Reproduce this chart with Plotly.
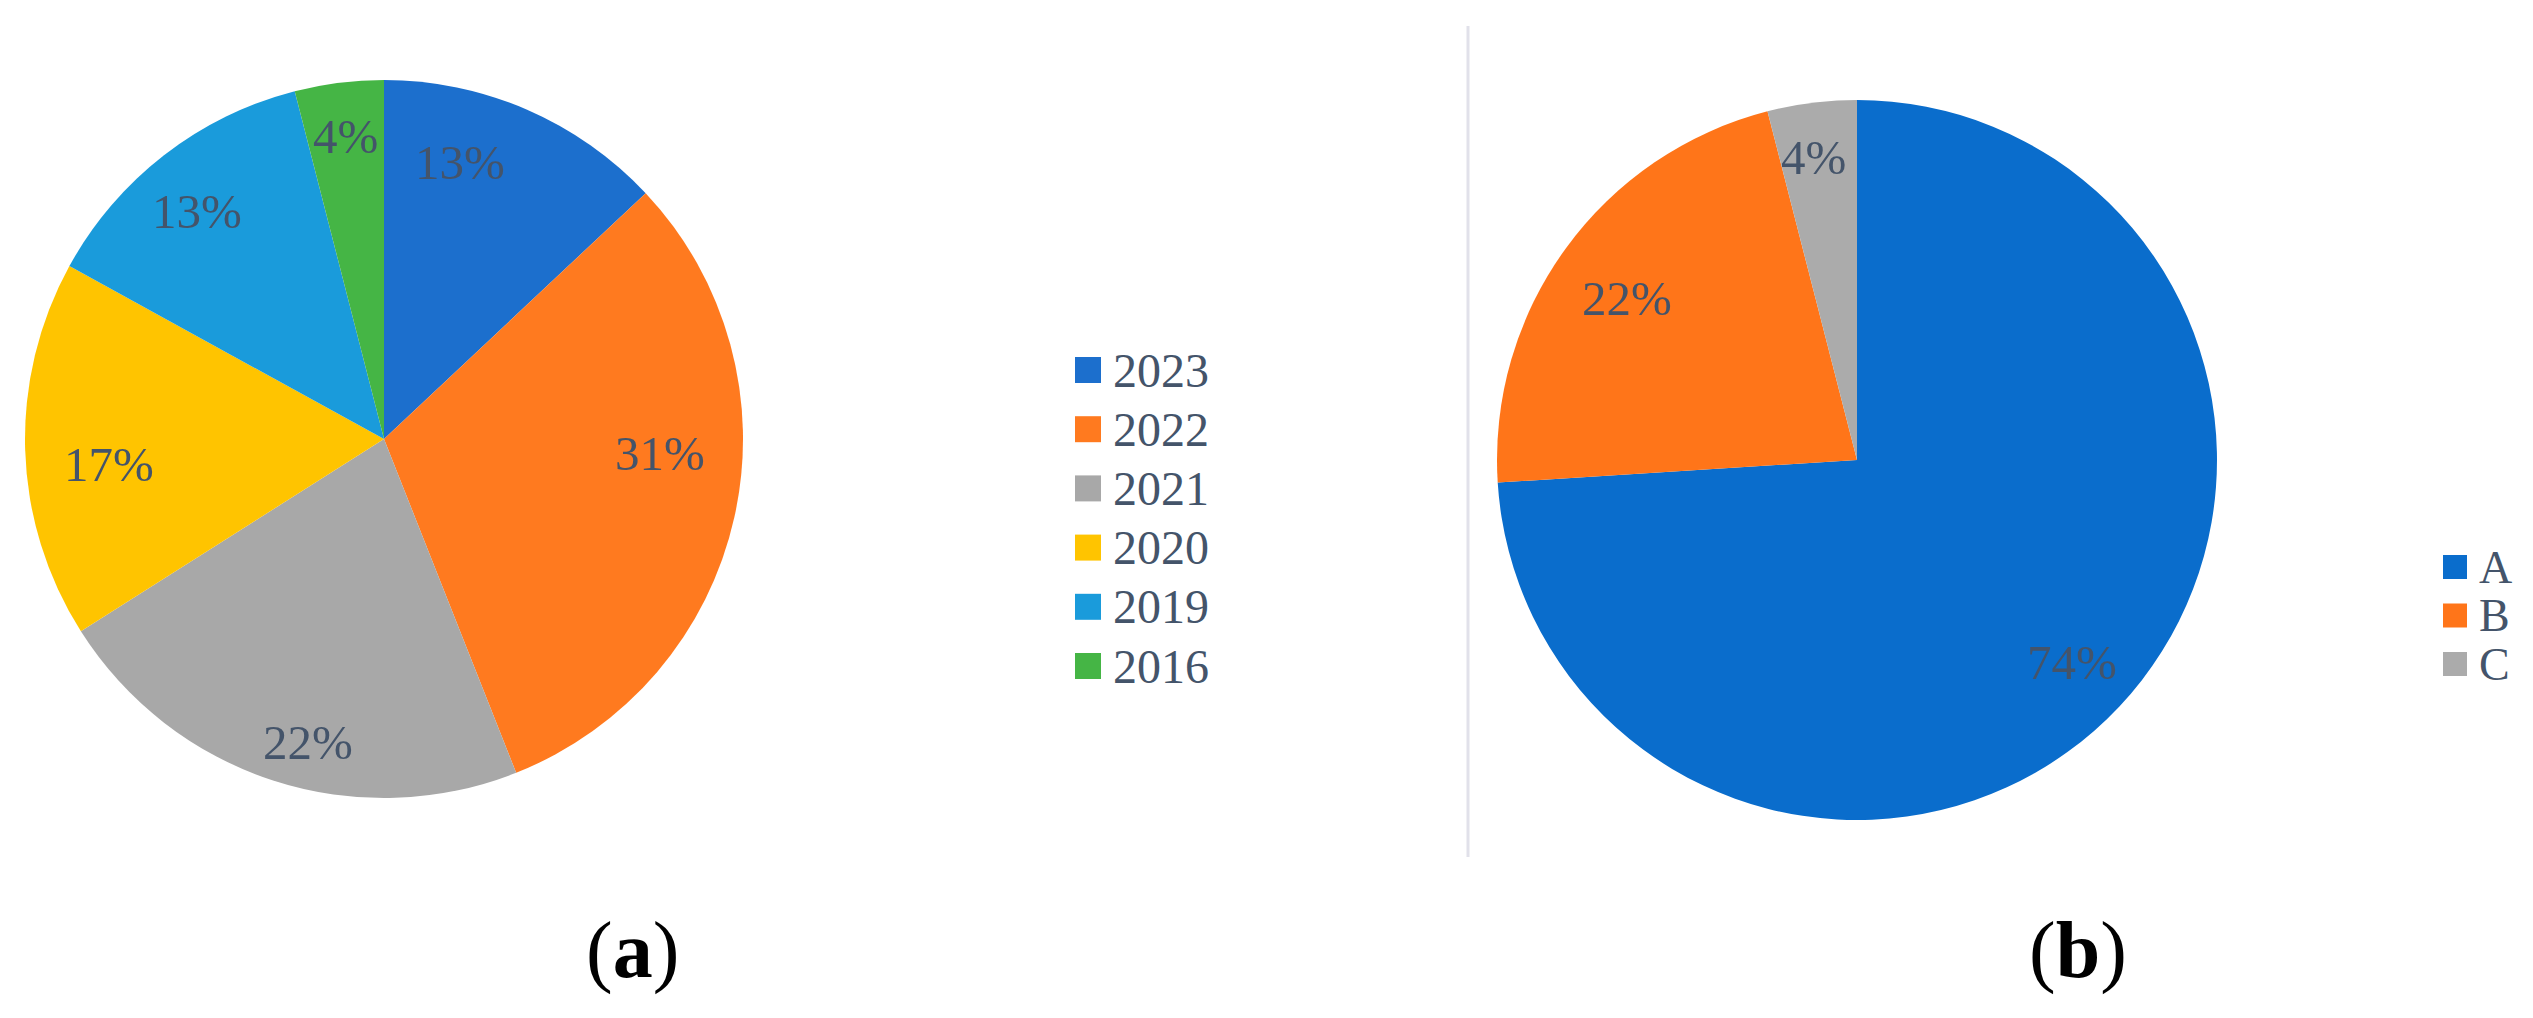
import numpy as np
import plotly.graph_objects as go

W, H = 2533, 1018

# ---- data ----
years = ["2023", "2022", "2021", "2020", "2019", "2016"]
year_share = [13, 31, 22, 17, 13, 4]
year_colors = ["#1C6FCD", "#FF7A1F", "#A8A8A8", "#FFC400", "#1A9BDB", "#45B545"]

groups = ["A", "B", "C"]
group_share = [74, 22, 4]
group_colors = ["#0A6DCC", "#FF7519", "#ABABAB"]

panel_labels = ["(<b>a</b>)", "(<b>b</b>)"]

LABEL_FONT = "Liberation Serif"
TEXT_COLOR = "#44546A"

# ---- styling: pie geometry (px) and label placement (radius fraction, angle nudge in deg) ----
pies = [
    dict(cx=384, cy=439, r=359, labels=years, values=year_share, colors=year_colors,
         label_r=[0.80, 0.77, 0.87, 0.77, 0.82, 0.85],
         label_nudge=[-8, -9.5, -4, -3.4, -1.7, 0]),
    dict(cx=1857, cy=460, r=360, labels=groups, values=group_share, colors=group_colors,
         label_r=[0.82, 0.78, 0.85],
         label_nudge=[0, -1, -1]),
]

fig = go.Figure()
annotations = []
shapes = []

def px(x):
    return x / W

def py(y):
    return (H - y) / H

for p in pies:
    cx, cy, r = p["cx"], p["cy"], p["r"]
    fig.add_trace(go.Pie(
        labels=p["labels"], values=p["values"],
        marker=dict(colors=p["colors"], line=dict(width=0)),
        sort=False, direction="clockwise", rotation=0,
        textinfo="none", hoverinfo="label+percent",
        domain=dict(x=[px(cx - r), px(cx + r)], y=[py(cy + r), py(cy - r)]),
        showlegend=False,
    ))
    vals = np.array(p["values"], dtype=float)
    tot = vals.sum()
    before = np.concatenate([[0], np.cumsum(vals)[:-1]])
    mid = 2 * np.pi * (before + vals / 2) / tot
    for v, th, rf, nd in zip(p["values"], mid, p["label_r"], p["label_nudge"]):
        th = th + np.deg2rad(nd)
        x = cx + rf * r * np.sin(th)
        y = cy - rf * r * np.cos(th)
        annotations.append(dict(
            x=px(x), y=py(y), xref="paper", yref="paper",
            text=f"{round(100 * v / tot)}%", showarrow=False,
            font=dict(family=LABEL_FONT, size=49, color=TEXT_COLOR),
            xanchor="center", yanchor="middle",
        ))

# ---- manual legends ----
legends = [
    dict(items=years, colors=year_colors, sq_x=1075, sq=26, text_x=1111, y0=370, dy=59.2, size=48),
    dict(items=groups, colors=group_colors, sq_x=2443, sq=24, text_x=2477, y0=567, dy=48.5, size=46),
]
for lg in legends:
    for i, (name, col) in enumerate(zip(lg["items"], lg["colors"])):
        yc = lg["y0"] + i * lg["dy"]
        s = lg["sq"]
        shapes.append(dict(
            type="rect", xref="paper", yref="paper",
            x0=px(lg["sq_x"]), x1=px(lg["sq_x"] + s),
            y0=py(yc + s / 2), y1=py(yc - s / 2),
            fillcolor=col, line=dict(width=0),
        ))
        annotations.append(dict(
            x=px(lg["text_x"]), y=py(yc), xref="paper", yref="paper",
            text=name, showarrow=False,
            font=dict(family=LABEL_FONT, size=lg["size"], color=TEXT_COLOR),
            xanchor="left", yanchor="middle",
        ))

# separator line between panels
shapes.append(dict(
    type="line", xref="paper", yref="paper",
    x0=px(1468), x1=px(1468), y0=py(857), y1=py(26),
    line=dict(color="#E1E1EA", width=3),
))

# panel labels
for lab, xc in zip(panel_labels, [632, 2078]):
    annotations.append(dict(
        x=px(xc), y=py(950), xref="paper", yref="paper",
        text=lab, showarrow=False,
        font=dict(family=LABEL_FONT, size=80, color="#000000"),
        xanchor="center", yanchor="middle",
    ))

fig.update_layout(
    width=W, height=H,
    margin=dict(l=0, r=0, t=0, b=0),
    paper_bgcolor="white", plot_bgcolor="white",
    showlegend=False,
    annotations=annotations, shapes=shapes,
)

fig.write_html("out.html", config={"displayModeBar": False},
               post_script="document.body.style.margin='0';")
